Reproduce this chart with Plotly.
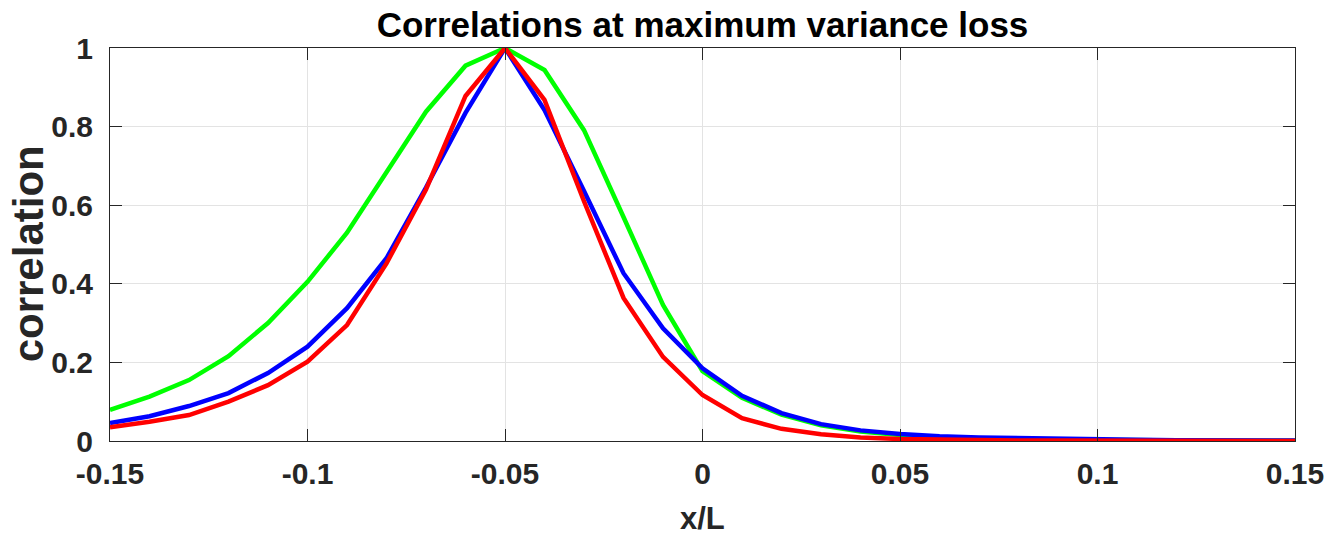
import plotly.graph_objects as go

x_vals = [-0.15, -0.14, -0.13, -0.12, -0.11, -0.10, -0.09, -0.08, -0.07, -0.06,
          -0.05, -0.04, -0.03, -0.02, -0.01, 0.0, 0.01, 0.02, 0.03, 0.04,
          0.05, 0.06, 0.07, 0.08, 0.09, 0.10, 0.11, 0.12, 0.13, 0.14, 0.15]

green_vals = [0.079, 0.113, 0.155, 0.216, 0.300, 0.405, 0.530, 0.685, 0.838, 0.955,
              1.000, 0.944, 0.791, 0.570, 0.346, 0.178, 0.110, 0.067, 0.040, 0.024,
              0.015, 0.009, 0.006, 0.004, 0.003, 0.002, 0.0015, 0.001, 0.001, 0.0007, 0.0005]

blue_vals = [0.046, 0.063, 0.089, 0.122, 0.173, 0.240, 0.338, 0.465, 0.645, 0.835,
             1.000, 0.842, 0.636, 0.427, 0.287, 0.185, 0.115, 0.071, 0.043, 0.027,
             0.018, 0.012, 0.009, 0.007, 0.005, 0.004, 0.003, 0.002, 0.002, 0.001, 0.001]

red_vals = [0.035, 0.049, 0.066, 0.100, 0.142, 0.202, 0.295, 0.452, 0.640, 0.878,
            1.000, 0.868, 0.610, 0.364, 0.214, 0.117, 0.058, 0.031, 0.017, 0.009,
            0.005, 0.003, 0.002, 0.001, 0.001, 0.0005, 0.0005, 0.0003, 0.0003, 0.0002, 0.0002]

x_ticks = [-0.15, -0.1, -0.05, 0, 0.05, 0.1, 0.15]
x_tick_text = ["-0.15", "-0.1", "-0.05", "0", "0.05", "0.1", "0.15"]
y_ticks = [0, 0.2, 0.4, 0.6, 0.8, 1]
y_tick_text = ["0", "0.2", "0.4", "0.6", "0.8", "1"]

title_text = "Correlations at maximum variance loss"
x_label = "x/L"
y_label = "correlation"

FONT = "Liberation Sans, Arial, Helvetica, sans-serif"
AX = "#262626"

fig = go.Figure()
for vals, col in [(green_vals, "#00ff00"), (blue_vals, "#0000ff"), (red_vals, "#ff0000")]:
    fig.add_trace(go.Scatter(x=x_vals, y=vals, mode="lines",
                             line=dict(color=col, width=4.5), hoverinfo="skip"))

axis_common = dict(
    showline=True, linecolor=AX, linewidth=1, mirror="ticks",
    ticks="inside", ticklen=12, tickwidth=1, tickcolor=AX,
    showgrid=True, gridcolor="#e3e3e3", gridwidth=1, zeroline=False,
    tickfont=dict(family=FONT, size=30, color=AX, weight="bold"),
)

fig.update_xaxes(range=[-0.15, 0.15], tickvals=x_ticks, ticktext=x_tick_text,
                 ticklabelstandoff=6, **axis_common)
fig.update_yaxes(range=[0, 1], tickvals=y_ticks, ticktext=y_tick_text,
                 ticklabelstandoff=10, **axis_common)

fig.update_layout(
    width=1336, height=536,
    margin=dict(l=110, r=36, t=48, b=95),
    plot_bgcolor="white", paper_bgcolor="white",
    showlegend=False,
    font=dict(family=FONT, color=AX),
    title=dict(text="<b>" + title_text + "</b>", x=0.5, xref="paper", xanchor="center",
               y=1 - 25 / 536, yref="container", yanchor="middle",
               font=dict(family=FONT, size=35, color="#000000")),
    annotations=[
        dict(text="<b>" + x_label + "</b>", x=0.5, xref="paper", y=-0.196, yref="paper",
             xanchor="center", yanchor="middle", showarrow=False,
             font=dict(family=FONT, size=31, color=AX)),
        dict(text="<b>" + y_label + "</b>", x=-0.068, xref="paper", y=0.476, yref="paper",
             xanchor="center", yanchor="middle", textangle=-90, showarrow=False,
             font=dict(family=FONT, size=42, color=AX)),
    ],
)

fig.write_html("out.html")
